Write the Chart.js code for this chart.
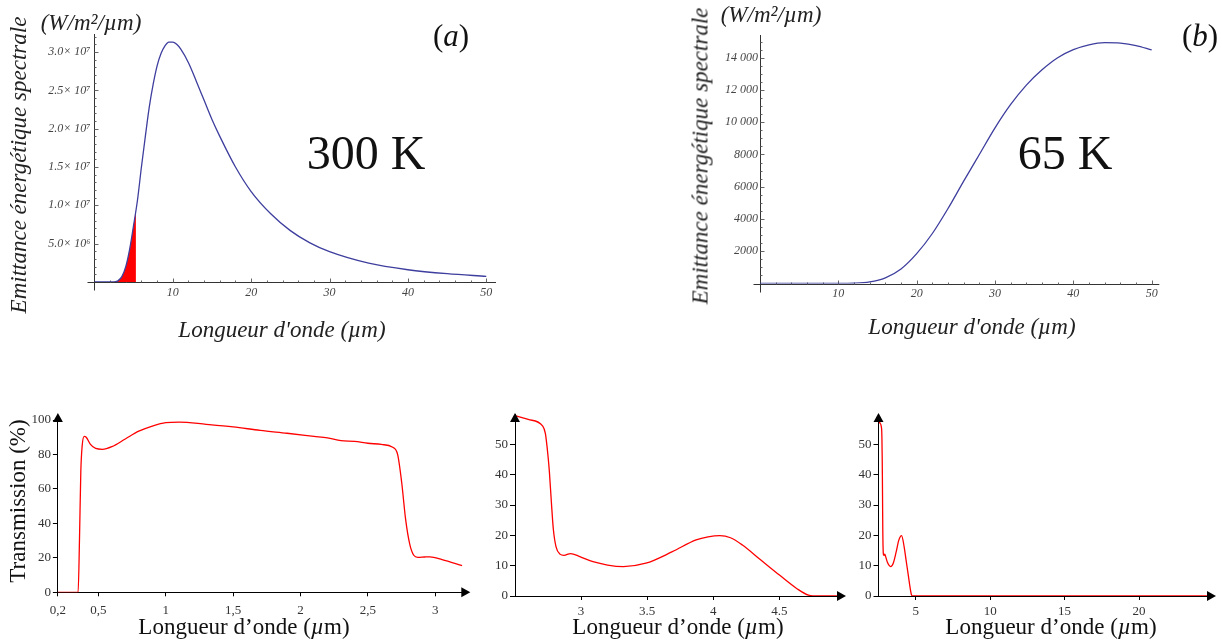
<!DOCTYPE html>
<html>
<head>
<meta charset="utf-8">
<script src="https://cdn.jsdelivr.net/npm/chart.js@4.4.1/dist/chart.umd.min.js"></script>
<style>
    html, body { margin: 0; padding: 0; background: #fff; }
    #page { position: relative; width: 1222px; height: 643px; overflow: hidden; }
    #page canvas { position: absolute; left: 0; top: 0; }
    .lbl {
        position: absolute;
        transform: translate(-50%, -50%);
        white-space: nowrap;
        line-height: 1;
        font-family: "Liberation Serif", "Times New Roman", serif;
        color: #111;
    }
    .it { font-style: italic; }
    .rot { transform: translate(-50%, -50%) rotate(-90deg); }
    .top-title { font-size: 23px; font-style: italic; color: #222; }
    .bot-title { font-size: 23px; }
</style>
</head>
<body>
<div id="page">
    <canvas id="chartA" width="1222" height="643"></canvas>
    <canvas id="chartB" width="1222" height="643"></canvas>
    <canvas id="chartC" width="1222" height="643"></canvas>
    <canvas id="chartD" width="1222" height="643"></canvas>
    <canvas id="chartE" width="1222" height="643"></canvas>

    <!-- panel (a) -->
    <div class="lbl top-title rot" style="left:18px; top:165px;">Emittance énergétique spectrale</div>
    <div class="lbl top-title" style="left:91px; top:22px;">(W/m²/µm)</div>
    <div class="lbl" style="left:451px; top:35px; font-size:31px;">(<i>a</i>)</div>
    <div class="lbl" style="left:366px; top:153px; font-size:48px;">300 K</div>
    <div class="lbl top-title" style="left:282px; top:329px;">Longueur d'onde (µm)</div>

    <!-- panel (b) -->
    <div class="lbl top-title rot" style="left:700px; top:156px;">Emittance énergétique spectrale</div>
    <div class="lbl top-title" style="left:771px; top:14px;">(W/m²/µm)</div>
    <div class="lbl" style="left:1200px; top:35px; font-size:31px;">(<i>b</i>)</div>
    <div class="lbl" style="left:1065px; top:153px; font-size:48px;">65 K</div>
    <div class="lbl top-title" style="left:972px; top:326px;">Longueur d'onde (µm)</div>

    <!-- bottom panels -->
    <div class="lbl bot-title rot" style="left:17px; top:501px;">Transmission (%)</div>
    <div class="lbl bot-title" style="left:244px; top:626px;">Longueur d’onde (<i>µ</i>m)</div>
    <div class="lbl bot-title" style="left:678px; top:626px;">Longueur d’onde (<i>µ</i>m)</div>
    <div class="lbl bot-title" style="left:1051px; top:626px;">Longueur d’onde (<i>µ</i>m)</div>
</div>

<script>
// Panel (a): 300 K spectral emittance
const waveA = [0, 1, 2, 2.5, 3, 3.5, 4, 4.5, 5, 5.5, 6, 6.5, 7, 7.5, 8, 8.5, 9, 9.5, 10, 10.5, 11, 12, 13, 14, 15, 16, 18, 20, 22.5, 25, 27.5, 30, 35, 40, 45, 50];
const emitA = [0, 0, 0, 2e4, 1.5e5, 7e5, 2.0e6, 4.3e6, 7.4e6, 1.07e7, 1.5e7, 1.9e7, 2.28e7, 2.58e7, 2.82e7, 2.98e7, 3.08e7, 3.13e7, 3.13e7, 3.1e7, 3.04e7, 2.86e7, 2.62e7, 2.37e7, 2.12e7, 1.9e7, 1.5e7, 1.18e7, 8.9e6, 6.7e6, 5.1e6, 3.95e6, 2.45e6, 1.6e6, 1.08e6, 7.4e5];
// red shaded band under the curve
const waveFill = [2.5, 3, 3.5, 4, 4.5, 5, 5.3];
const emitFill = [2e4, 1.5e5, 7e5, 2.0e6, 4.3e6, 7.4e6, 9.3e6];
const ticksAx = [10, 20, 30, 40, 50];
const ticksAy = [5e6, 1e7, 1.5e7, 2e7, 2.5e7, 3e7];
const labelsAy = ['5.0× 10⁶', '1.0× 10⁷', '1.5× 10⁷', '2.0× 10⁷', '2.5× 10⁷', '3.0× 10⁷'];

// Panel (b): 65 K spectral emittance
const waveB = [0, 5, 10, 12, 14, 16, 18, 20, 22, 24, 26, 28, 30, 32, 34, 36, 38, 40, 42, 44, 46, 48, 50];
const emitB = [0, 0, 1, 15, 95, 350, 900, 1850, 3100, 4650, 6350, 8000, 9650, 11100, 12300, 13250, 14000, 14500, 14800, 14930, 14900, 14750, 14480];
const ticksBx = [10, 20, 30, 40, 50];
const ticksBy = [2000, 4000, 6000, 8000, 10000, 12000, 14000];
const labelsBy = ['2000', '4000', '6000', '8000', '10 000', '12 000', '14 000'];

// Panel (c): transmission 0.2 - 3.2 µm
const waveC = [0.2, 0.35, 0.36, 0.37, 0.38, 0.395, 0.41, 0.44, 0.48, 0.53, 0.6, 0.7, 0.8, 0.9, 1.0, 1.1, 1.3, 1.5, 1.7, 1.9, 2.1, 2.2, 2.3, 2.4, 2.5, 2.6, 2.68, 2.72, 2.75, 2.78, 2.81, 2.84, 2.87, 2.92, 2.96, 3.05, 3.2];
const transC = [0, 0, 30, 70, 85, 90.5, 90, 86, 83.5, 83, 84.5, 89, 93.5, 96.5, 98.5, 98.8, 97.5, 96, 94, 92.3, 90.5, 89.6, 88, 87.6, 86.5, 85.8, 84.3, 80, 64, 42, 28, 21.5, 20.3, 20.5, 20.6, 19, 15.5];
const ticksCx = [0.2, 0.5, 1, 1.5, 2, 2.5, 3];
const labelsCx = ['0,2', '0,5', '1', '1,5', '2', '2,5', '3'];
const ticksCy = [0, 20, 40, 60, 80, 100];

// Panel (d): transmission 2.5 - 5 µm
const waveD = [2.5, 2.6, 2.71, 2.73, 2.75, 2.76, 2.775, 2.79, 2.81, 2.84, 2.87, 2.92, 2.99, 3.09, 3.2, 3.32, 3.49, 3.69, 3.87, 3.96, 4.05, 4.13, 4.22, 4.35, 4.5, 4.63, 4.72, 4.8, 4.94];
const transD = [59.5, 58.2, 56, 53.5, 46, 41, 31, 22, 16.3, 13.8, 13.4, 14, 13, 11.3, 10.2, 9.7, 10.8, 14.6, 18.5, 19.5, 19.9, 19.2, 16.8, 12.2, 6.9, 2.5, 0.3, 0, 0];
const ticksDx = [3, 3.5, 4, 4.5];
const labelsDx = ['3', '3.5', '4', '4.5'];
const ticksDy = [0, 10, 20, 30, 40, 50];

// Panel (e): transmission 2.5 - 25 µm
const waveE = [2.5, 2.6, 2.71, 2.73, 2.75, 2.76, 2.775, 2.79, 2.81, 2.84, 2.87, 2.92, 2.99, 3.09, 3.2, 3.32, 3.49, 3.69, 3.87, 4.05, 4.22, 4.35, 4.5, 4.63, 4.72, 4.8, 10, 15, 20, 24.6];
const transE = [58, 57, 55, 52, 45, 40, 30, 21, 15.5, 13.5, 13.4, 13.8, 12.8, 11.2, 10.2, 9.7, 10.8, 14.6, 18.5, 19.9, 16.3, 11.9, 6.9, 2.5, 0.3, 0, 0, 0, 0, 0];
const ticksEx = [5, 10, 15, 20];
const ticksEy = [0, 10, 20, 30, 40, 50];

const PAGE_W = 1222, PAGE_H = 643;
const AXIS_W = 60, AXIS_H = 30;

function toPoints(xs, ys) {
    return xs.map((x, i) => ({ x: x, y: ys[i] }));
}

// place the plot area at fixed page coordinates
function areaPadding(l, r, t, b) {
    return { left: l - AXIS_W, right: PAGE_W - r, top: t, bottom: PAGE_H - b - AXIS_H };
}

function fixedTicks(values) {
    return scale => { scale.ticks = values.map(v => ({ value: v })); };
}

// Mathematica-like axes: lines through origin, small inward ticks
const mmaAxes = {
    id: 'mmaAxes',
    beforeDatasetsDraw(chart, args, o) {
        const { ctx, chartArea, scales: { x, y } } = chart;
        const x0 = Math.round(x.getPixelForValue(0)) + 0.5;
        const y0 = Math.round(y.getPixelForValue(0)) + 0.5;
        ctx.save();
        ctx.strokeStyle = '#333';
        ctx.lineWidth = 1;
        ctx.beginPath();
        ctx.moveTo(x0 - 7, y0);
        ctx.lineTo(chartArea.right, y0);
        ctx.moveTo(x0, chartArea.top);
        ctx.lineTo(x0, y0 + 8);
        ctx.stroke();

        ctx.strokeStyle = '#666';
        ctx.beginPath();
        for (let v = o.xMinor; v <= x.max; v += o.xMinor) {
            const px = Math.round(x.getPixelForValue(v)) + 0.5;
            const major = Math.abs(v / o.xMajor - Math.round(v / o.xMajor)) < 1e-6;
            ctx.moveTo(px, y0);
            ctx.lineTo(px, y0 - (major ? 4 : 2));
        }
        for (let v = o.yMinor; v <= y.max; v += o.yMinor) {
            const py = Math.round(y.getPixelForValue(v)) + 0.5;
            const major = Math.abs(v / o.yMajor - Math.round(v / o.yMajor)) < 1e-6;
            ctx.moveTo(x0, py);
            ctx.lineTo(x0 + (major ? 4 : 2), py);
        }
        ctx.stroke();
        ctx.restore();
    }
};

// black arrow heads at the end of each axis
const arrowAxes = {
    id: 'arrowAxes',
    afterDraw(chart, args, o) {
        const { ctx, chartArea: { left, right, top, bottom } } = chart;
        ctx.save();
        ctx.fillStyle = '#000';
        ctx.beginPath();
        ctx.moveTo(left, top - o.up);
        ctx.lineTo(left - 5, top - o.up + 9);
        ctx.lineTo(left + 5, top - o.up + 9);
        ctx.closePath();
        ctx.fill();
        ctx.beginPath();
        ctx.moveTo(right + 8, bottom);
        ctx.lineTo(right - 1, bottom - 5);
        ctx.lineTo(right - 1, bottom + 5);
        ctx.closePath();
        ctx.fill();
        ctx.restore();
    }
};

const topTickFont = { family: '"Liberation Serif", serif', size: 12, style: 'italic' };
const botTickFont = { family: '"Liberation Serif", serif', size: 13 };

function topChart(id, datasets, area, x, y, mma) {
    return new Chart(document.getElementById(id), {
        type: 'line',
        data: { datasets: datasets },
        plugins: [mmaAxes],
        options: {
            responsive: false,
            animation: false,
            events: [],
            parsing: true,
            layout: { padding: areaPadding(area.l, area.r, area.t, area.b) },
            plugins: { legend: { display: false }, tooltip: { enabled: false }, mmaAxes: mma },
            elements: { point: { radius: 0 } },
            scales: {
                x: {
                    type: 'linear', min: x.min, max: x.max,
                    afterFit: s => { s.height = AXIS_H; },
                    afterBuildTicks: fixedTicks(x.ticks),
                    grid: { display: false, drawTicks: false },
                    border: { display: false },
                    ticks: { font: topTickFont, color: '#444', padding: x.pad, autoSkip: false, maxRotation: 0 }
                },
                y: {
                    type: 'linear', min: y.min, max: y.max,
                    afterFit: s => { s.width = AXIS_W; },
                    afterBuildTicks: fixedTicks(y.ticks),
                    grid: { display: false, drawTicks: false },
                    border: { display: false },
                    ticks: {
                        font: topTickFont, color: '#444', padding: y.pad, autoSkip: false,
                        callback: (v, i) => y.labels[i]
                    }
                }
            }
        }
    });
}

function bottomChart(id, xs, ys, area, x, y, up) {
    return new Chart(document.getElementById(id), {
        type: 'line',
        data: {
            datasets: [{
                data: toPoints(xs, ys),
                borderColor: '#ff0000',
                borderWidth: 1.3,
                cubicInterpolationMode: 'monotone',
                fill: false
            }]
        },
        plugins: [arrowAxes],
        options: {
            responsive: false,
            animation: false,
            events: [],
            layout: { padding: areaPadding(area.l, area.r, area.t, area.b) },
            plugins: { legend: { display: false }, tooltip: { enabled: false }, arrowAxes: { up: up } },
            elements: { point: { radius: 0 } },
            scales: {
                x: {
                    type: 'linear', min: x.min, max: x.max,
                    afterFit: s => { s.height = AXIS_H; },
                    afterBuildTicks: fixedTicks(x.ticks),
                    grid: { display: true, drawOnChartArea: false, drawTicks: true, tickLength: 4, color: '#000' },
                    border: { display: true, color: '#000', width: 1 },
                    ticks: {
                        font: botTickFont, color: '#333', padding: x.pad, autoSkip: false, maxRotation: 0,
                        callback: (v, i) => x.labels ? x.labels[i] : String(v)
                    }
                },
                y: {
                    type: 'linear', min: y.min, max: y.max,
                    afterFit: s => { s.width = AXIS_W; },
                    afterBuildTicks: fixedTicks(y.ticks),
                    grid: { display: true, drawOnChartArea: false, drawTicks: true, tickLength: 5, color: '#000' },
                    border: { display: true, color: '#000', width: 1 },
                    ticks: { font: botTickFont, color: '#333', padding: 2, autoSkip: false }
                }
            }
        }
    });
}

const blue = 'rgb(62, 62, 158)';

topChart('chartA', [
    { data: toPoints(waveA, emitA), borderColor: blue, borderWidth: 1.3, cubicInterpolationMode: 'monotone', fill: false },
    { data: toPoints(waveFill, emitFill), borderColor: 'rgba(0,0,0,0)', borderWidth: 0, backgroundColor: '#ff0000', cubicInterpolationMode: 'monotone', fill: 'origin' }
], { l: 94.4, r: 496, t: 34, b: 282 },
   { min: 0, max: 51.24, ticks: ticksAx, pad: 3.5 },
   { min: 0, max: 3.235e7, ticks: ticksAy, labels: labelsAy, pad: 4 },
   { xMinor: 2, xMajor: 10, yMinor: 1e6, yMajor: 5e6 });

topChart('chartB', [
    { data: toPoints(waveB, emitB), borderColor: blue, borderWidth: 1.3, cubicInterpolationMode: 'monotone', fill: false }
], { l: 760, r: 1159.3, t: 35, b: 283.5 },
   { min: 0, max: 50.97, ticks: ticksBx, pad: 3 },
   { min: 0, max: 15406, ticks: ticksBy, labels: labelsBy, pad: 2 },
   { xMinor: 2, xMajor: 10, yMinor: 500, yMajor: 2000 });

bottomChart('chartC', waveC, transC, { l: 57.9, r: 462.3, t: 420, b: 592.3 },
    { min: 0.2, max: 3.2, ticks: ticksCx, labels: labelsCx, pad: 6.5 },
    { min: 0, max: 100, ticks: ticksCy }, 7);

bottomChart('chartD', waveD, transD, { l: 515, r: 838, t: 414, b: 596 },
    { min: 2.5, max: 4.943, ticks: ticksDx, labels: labelsDx, pad: 4 },
    { min: 0, max: 60, ticks: ticksDy }, 1);

bottomChart('chartE', waveE, transE, { l: 878.5, r: 1208, t: 414, b: 596 },
    { min: 2.5, max: 24.63, ticks: ticksEx, pad: 4 },
    { min: 0, max: 60, ticks: ticksEy }, 1);
</script>
</body>
</html>
